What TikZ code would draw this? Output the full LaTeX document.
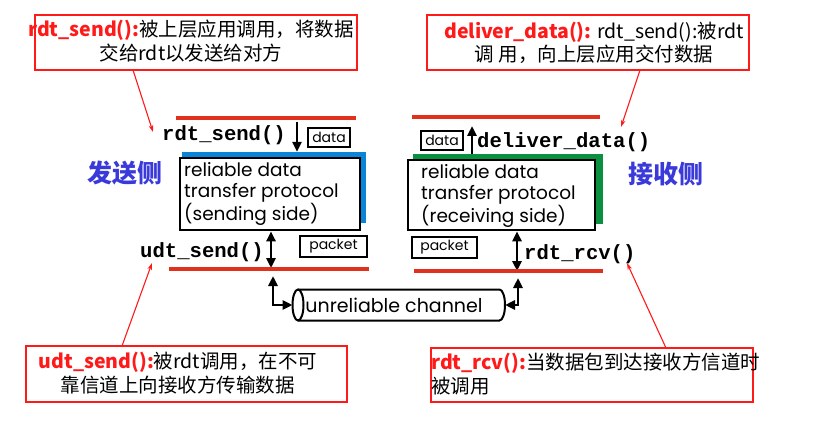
\documentclass[tikz,border=0pt]{standalone}
\usepackage{fontspec}
\setmainfont{Noto Sans CJK SC}
\newfontfamily\monof{Liberation Mono}
\newfontfamily\gothic{Poppins}
\usetikzlibrary{arrows.meta}
\definecolor{cred}{HTML}{FF1A1A}
\definecolor{lred}{HTML}{E0301E}
\definecolor{cblue}{HTML}{0A84D6}
\definecolor{cgreen}{HTML}{0A9040}
\definecolor{cpurple}{HTML}{3A3ADB}
\begin{document}
\begin{tikzpicture}[x=1pt,y=-1pt,
  redline/.style={line width=3.2pt, draw=lred},
  callbox/.style={draw=cred, line width=1.8pt, inner sep=0pt},
  calltext/.style={font=\fontsize{19.5}{23.5}\selectfont, inner sep=0pt},
  callline/.style={draw=cred, line width=1.1pt, -{Stealth[length=7pt,width=4.5pt]}},
  lbl/.style={font=\gothic\fontsize{14}{16}\selectfont, draw, line width=2pt, inner sep=0pt},
  mono/.style={font=\monof\bfseries\fontsize{20.6}{22}\selectfont, inner sep=0pt, anchor=west},
  protobox/.style={draw, line width=2.6pt, fill=white, inner sep=0pt},
  prototext/.style={font=\gothic\fontsize{18.5}{21.5}\selectfont, align=left, inner sep=0pt, anchor=west},
  side/.style={font=\bfseries\fontsize{25}{27}\selectfont, text=cpurple, inner sep=0pt},
  arr/.style={line width=2.6pt, -{Triangle[length=10pt,width=9pt]}},
  darr/.style={line width=2.6pt, {Triangle[length=10pt,width=9pt]}-{Triangle[length=10pt,width=9pt]}}
]
\useasboundingbox (0,0) rectangle (814,425);

% ---- callout boxes ----
\node[callbox, minimum width=322pt, minimum height=55pt] (c1) at (196,42.5) {};
\node[calltext, align=center] (c1t) at (191,41) {\textbf{\color{cred}rdt\_send():}被上层应用调用，将数据\\交给rdt以发送给对方};
\node[callbox, minimum width=322pt, minimum height=55pt] (c2) at (588,42.5) {};
\node[calltext, align=center] (c2t) at (594,43) {\textbf{\color{cred}deliver\_data():} rdt\_send():被rdt\\调 用，向上层应用交付数据};
\node[callbox, minimum width=321pt, minimum height=56pt] (c3) at (186.5,374) {};
\node[calltext, align=center] (c3t) at (178,373) {\textbf{\color{cred}udt\_send():}被rdt调用，在不可\\靠信道上向接收方传输数据};
\node[callbox, minimum width=322pt, minimum height=54pt] (c4) at (592,375) {};
\node[calltext, align=left, anchor=west] (c4t) at (431,374) {\textbf{\color{cred}rdt\_rcv():}当数据包到达接收方信道时\\被调用};

% ---- sender side ----
\draw[redline] (176,118) -- (356,118);
\node[mono] (rs) at (162,135) {rdt\_send()};
\node[lbl, minimum width=42pt, minimum height=19pt] (d1) at (329,137.5) {data};
\node[fill=cblue, inner sep=0pt, minimum width=184pt, minimum height=71pt] (sh1) at (274,187.5) {};
\node[protobox, minimum width=180pt, minimum height=72pt] (pb1) at (270,194) {};
\node[prototext] (pt1) at (184,194) {reliable data\\transfer protocol\\(sending side)};
\node[side] (ss) at (125,173) {发送侧};
\coordinate (a1) at (297,122);
\draw[arr] (a1) -- (a1 |- sh1.north);
\node[mono] (us) at (140,252) {udt\_send()};
\coordinate (a2) at (271,268);
\draw[darr] (a2 |- pb1.south) -- (a2);
\node[lbl, minimum width=67pt, minimum height=21pt] (p1) at (333.5,246.5) {packet};
\draw[redline] (169,269) -- (369,269);

% ---- receiver side ----
\draw[redline] (412,117) -- (600,117);
\node[lbl, minimum width=42pt, minimum height=19pt] (d2) at (442,140.5) {data};
\node[fill=cgreen, inner sep=0pt, minimum width=190pt, minimum height=70pt] (sh2) at (508,189) {};
\node[protobox, minimum width=187pt, minimum height=70pt] (pb2) at (501.5,195) {};
\node[prototext] (pt2) at (421,196) {reliable data\\transfer protocol\\(receiving side)};
\coordinate (a3) at (472,126);
\draw[arr] (a3 |- sh2.north) -- (a3);
\node[mono] (dd) at (477,142) {deliver\_data()};
\node[side] (js) at (666,174) {接收侧};
\node[lbl, minimum width=65pt, minimum height=21pt] (p2) at (444.5,247.5) {packet};
\coordinate (a4) at (517,271);
\draw[darr] (a4 |- pb2.south) -- (a4);
\node[mono] (rr) at (524,254) {rdt\_rcv()};
\draw[redline] (414,271) -- (603,271);

% ---- channel ----
\draw[line width=2pt] (298,305) ellipse[x radius=5.5, y radius=15.5];
\draw[line width=2pt] (298,289.5) -- (499.5,289.5) arc[start angle=-90, end angle=90, x radius=5.5, y radius=15.5] -- (298,320.5);
\node[font=\gothic\fontsize{19}{21}\selectfont, inner sep=0pt] (ch) at (394,305) {unreliable channel};
\coordinate (chl) at (292.5,305);
\coordinate (chr) at (505,305);
\coordinate (b1) at (273,276);
\coordinate (b2) at (518,278);
\draw[darr] (b1) -- (b1 |- chl) -- (chl);
\draw[darr] (chr) -- (b2 |- chr) -- (b2);

% ---- callout connectors ----
\coordinate (s1) at (133,70);  \coordinate (t1) at (153,132);
\coordinate (s2) at (640,70);  \coordinate (t2) at (621,127);
\coordinate (s3) at (122,346); \coordinate (t3) at (152,263);
\coordinate (s4) at (666,348); \coordinate (t4) at (627,263);
\draw[callline] (s1) -- (t1);
\draw[callline] (s2) -- (t2);
\draw[callline] (s3) -- (t3);
\draw[callline] (s4) -- (t4);
\end{tikzpicture}
\end{document}
